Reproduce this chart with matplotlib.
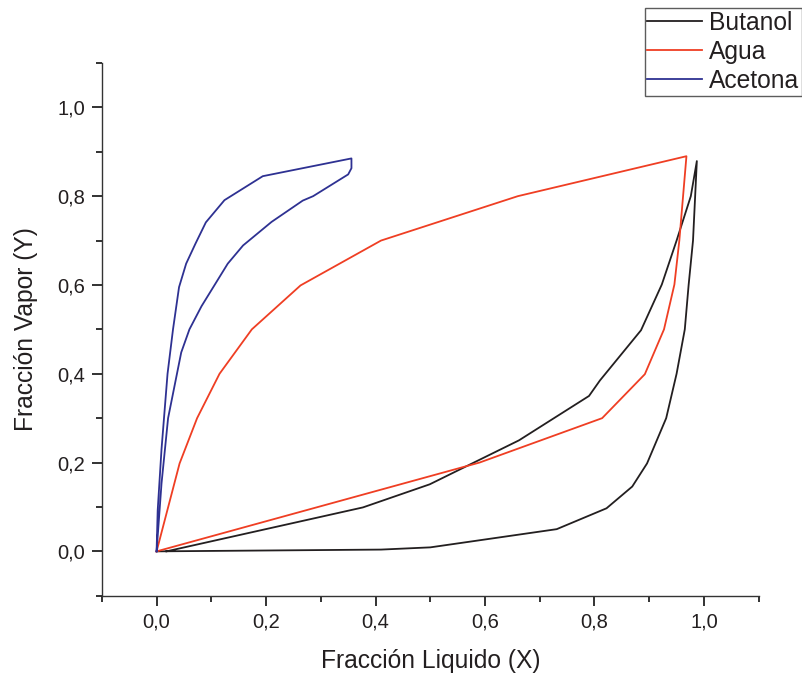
import matplotlib
matplotlib.use('Agg')
import matplotlib.pyplot as plt
from matplotlib.ticker import MultipleLocator, FuncFormatter

plt.rcParams['font.family'] = ['Liberation Sans', 'DejaVu Sans']

# Butanol: upper (vapor) branch then lower (liquid) branch
butanol_x = [0.018, 0.377, 0.499, 0.662, 0.79, 0.81, 0.885, 0.923, 0.95, 0.976, 0.987,
             0.980, 0.972, 0.965, 0.950, 0.931, 0.896, 0.869, 0.822, 0.731, 0.50, 0.41, 0.0]
butanol_y = [0.0, 0.099, 0.151, 0.25, 0.35, 0.385, 0.498, 0.601, 0.70, 0.80, 0.879,
             0.70, 0.60, 0.50, 0.40, 0.30, 0.198, 0.146, 0.097, 0.05, 0.009, 0.004, 0.0]

# Agua
agua_x = [0.0, 0.042, 0.074, 0.115, 0.174, 0.263, 0.41, 0.66, 0.968,
          0.955, 0.946, 0.927, 0.892, 0.814, 0.59, 0.0]
agua_y = [0.0, 0.198, 0.30, 0.40, 0.50, 0.599, 0.70, 0.80, 0.890,
          0.70, 0.601, 0.50, 0.399, 0.30, 0.20, 0.0]

# Acetona
acetona_x = [0.0, 0.002, 0.009, 0.02, 0.03, 0.041, 0.054, 0.071, 0.09, 0.124, 0.194, 0.356,
             0.356, 0.35, 0.286, 0.267, 0.21, 0.158, 0.13, 0.082, 0.06, 0.045, 0.021, 0.009, 0.0]
acetona_y = [0.0, 0.092, 0.23, 0.40, 0.50, 0.595, 0.648, 0.693, 0.741, 0.791, 0.845, 0.885,
             0.863, 0.849, 0.80, 0.79, 0.742, 0.689, 0.648, 0.552, 0.50, 0.448, 0.30, 0.153, 0.0]

fig = plt.figure(figsize=(8.02, 6.77), dpi=100)
ax = fig.add_axes([0.127, 0.12, 0.819, 0.787])

ax.plot(butanol_x, butanol_y, color='#231f20', lw=1.3, label='Butanol')
ax.plot(agua_x, agua_y, color='#ef3e23', lw=1.3, label='Agua')
ax.plot(acetona_x, acetona_y, color='#2e3192', lw=1.3, label='Acetona')

ax.set_xlim(-0.1, 1.1)
ax.set_ylim(-0.1, 1.1)
ax.spines['top'].set_visible(False)
ax.spines['right'].set_visible(False)
for s in ['left', 'bottom']:
    ax.spines[s].set_color('#333333')
    ax.spines[s].set_linewidth(1.0)

ax.xaxis.set_minor_locator(MultipleLocator(0.1))
ax.yaxis.set_minor_locator(MultipleLocator(0.1))
fmt = FuncFormatter(lambda v, p: ('%.1f' % v).replace('.', ','))
ax.set_xticks([0.0, 0.2, 0.4, 0.6, 0.8, 1.0])
ax.set_yticks([0.0, 0.2, 0.4, 0.6, 0.8, 1.0])
ax.xaxis.set_major_formatter(fmt)
ax.yaxis.set_major_formatter(fmt)
ax.tick_params(which='major', direction='out', length=7, width=1.3, color='#222222',
               labelsize=14.5, pad=5, labelcolor='#231f20')
ax.tick_params(which='minor', direction='out', length=4.3, width=1.3, color='#222222')

ax.set_xlabel('Fracción Liquido (X)', fontsize=17.7, labelpad=13, color='#231f20')
ax.set_ylabel('Fracción Vapor (Y)', fontsize=17.7, labelpad=14, color='#231f20')

leg = ax.legend(loc='upper right', bbox_to_anchor=(1.0, 0.988), bbox_transform=fig.transFigure,
                fontsize=17.7, frameon=True, fancybox=False, handlelength=2.2,
                borderpad=0.12, labelspacing=0.2, handletextpad=0.3, borderaxespad=0)
leg.get_frame().set_edgecolor('#333333')
leg.get_frame().set_linewidth(1.0)
for t in leg.get_texts():
    t.set_color('#231f20')

fig.savefig('out.png', dpi=100)
